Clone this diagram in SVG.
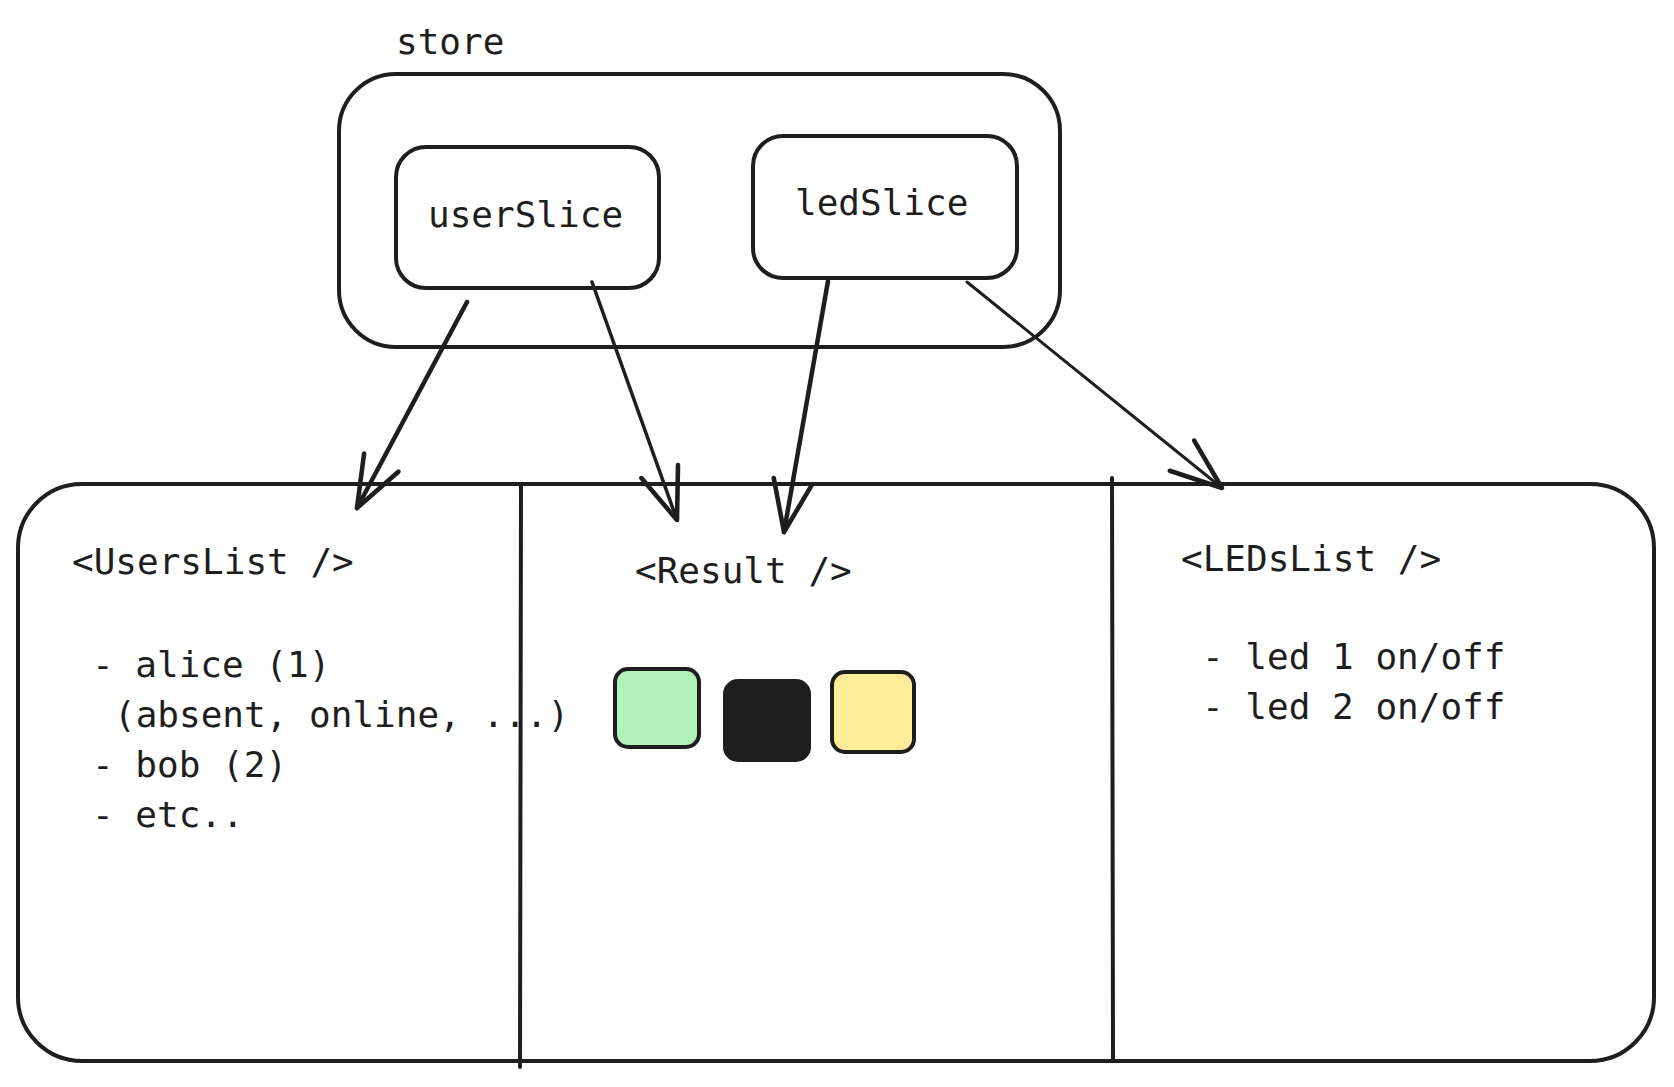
<svg xmlns="http://www.w3.org/2000/svg" width="1674" height="1087" viewBox="0 0 1674 1087">
<style>
.box{fill:none;stroke:#1e1e1e;stroke-width:4;stroke-linejoin:round;stroke-linecap:round}
.div{fill:none;stroke:#1e1e1e;stroke-width:4;stroke-linecap:round}
.t{font-family:"DejaVu Sans Mono","Liberation Mono",monospace;font-size:36px;fill:#1e1e1e}
.arr{fill:none;stroke:#1e1e1e;stroke-linecap:round}
.sq{stroke:#1e1e1e;stroke-width:4;stroke-linejoin:round}
</style>
<defs>
<marker id="ah" markerUnits="userSpaceOnUse" orient="auto" refX="0" refY="0" markerWidth="80" markerHeight="80" viewBox="-60 -30 70 60" overflow="visible">
<path d="M-45,-17 L0,0 L-45,17" fill="none" stroke="#1e1e1e" stroke-width="4" stroke-linecap="round" stroke-linejoin="round"/>
</marker>
</defs>
<rect width="1674" height="1087" fill="#ffffff"/>
<g id="store">
<rect class="box" x="339" y="74" width="721" height="273" rx="57"/>
<text class="t" x="396" y="54">store</text>
</g>
<g id="userSlice">
<rect class="box" x="396" y="147" width="263" height="141" rx="30"/>
<text class="t" x="428" y="227">userSlice</text>
</g>
<g id="ledSlice">
<rect class="box" x="753" y="136" width="264" height="142" rx="30"/>
<text class="t" x="795" y="215">ledSlice</text>
</g>
<g id="components">
<rect class="box" x="18" y="484" width="1636" height="577" rx="64"/>
</g>
<g id="UsersList">
<text class="t" x="72" y="574">&lt;UsersList /&gt;</text>
<text class="t" x="92" y="677">- alice (1)</text>
<text class="t" x="114" y="727">(absent, online, ...)</text>
<text class="t" x="92" y="777">- bob (2)</text>
<text class="t" x="92" y="827">- etc..</text>
</g>
<g id="Result">
<text class="t" x="635" y="583">&lt;Result /&gt;</text>
<rect class="sq" x="615" y="669" width="84" height="78" rx="13" fill="#b2f2bb"/>
<rect class="sq" x="725" y="681" width="84" height="79" rx="13" fill="#1e1e1e"/>
<rect class="sq" x="832" y="672" width="82" height="80" rx="13" fill="#ffec99"/>
</g>
<g id="LEDsList">
<text class="t" x="1181" y="571">&lt;LEDsList /&gt;</text>
<text class="t" x="1202" y="669">- led 1 on/off</text>
<text class="t" x="1202" y="719">- led 2 on/off</text>
</g>
<g id="dividers">
<line class="div" x1="521" y1="485" x2="520" y2="1067"/>
<line class="div" x1="1112" y1="478" x2="1113" y2="1061"/>
</g>
<g id="connectors">
<line class="arr" x1="467" y1="302" x2="357" y2="508" stroke-width="4.5" marker-end="url(#ah)"/>
<line class="arr" x1="592" y1="282" x2="677" y2="520" stroke-width="3.5" marker-end="url(#ah)"/>
<line class="arr" x1="828" y1="281" x2="784" y2="532" stroke-width="4.5" marker-end="url(#ah)"/>
<line class="arr" x1="967" y1="282" x2="1222" y2="488" stroke-width="3" marker-end="url(#ah)"/>
</g>
</svg>
